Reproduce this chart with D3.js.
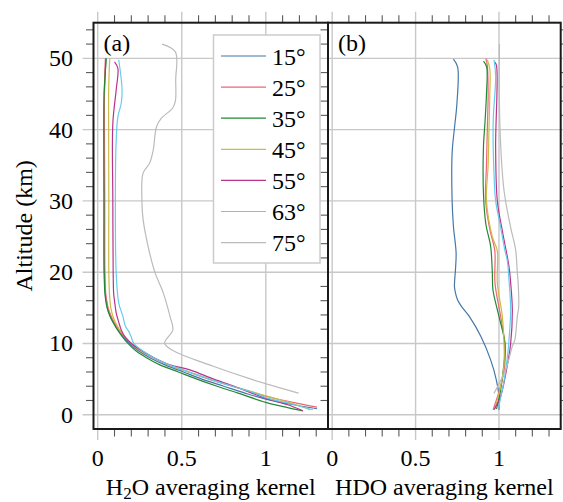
<!DOCTYPE html>
<html>
<head>
<meta charset="utf-8">
<script src="https://cdn.jsdelivr.net/npm/d3@7"></script>
<style>
  html, body { margin: 0; padding: 0; background: #fff; }
  svg { display: block; font-family: "Liberation Serif", "Times New Roman", serif; }
</style>
</head>
<body>
<svg id="chart" width="563" height="502"></svg>
<script>
// Latitude bands shown in the legend
const latitudes = ["15°", "25°", "35°", "45°", "55°", "63°", "75°"];
const colors = ["#4477AA", "#EE6677", "#228833", "#CCBB44", "#BB3388", "#66CCEE", "#BBBBBB"];

// Axis ticks
const xMajorTicks = [0, 0.5, 1];
const xTickLabels = ["0", "0.5", "1"];
const yMajorTicks = [0, 10, 20, 30, 40, 50];

// H2O averaging kernel diagonal, [altitude km, kernel value]
const h2o15 = [[50,0.05],[48,0.045],[45,0.04],[40,0.04],[30,0.04],[20,0.04],[17,0.045],[16,0.05],[15,0.058],[14,0.072],[13,0.092],[12,0.118],[11,0.15],[10,0.19],[9,0.24],[8,0.31],[7,0.40],[6,0.51],[5,0.62],[4,0.75],[3,0.88],[2.2,1.0],[1.3,1.19],[0.84,1.305]];
const h2o25 = [[50,0.046],[48,0.042],[45,0.04],[40,0.04],[30,0.042],[20,0.043],[17,0.048],[16,0.054],[15,0.062],[14,0.077],[13,0.097],[12,0.124],[11,0.157],[10,0.2],[9,0.255],[8,0.33],[7,0.42],[6,0.54],[5,0.66],[4,0.8],[3,0.94],[2.6,1.0],[1.6,1.19],[1.08,1.305]];
const h2o35 = [[50,0.05],[48,0.045],[45,0.038],[40,0.036],[30,0.037],[20,0.038],[17,0.043],[16,0.048],[15,0.056],[14,0.07],[13,0.09],[12,0.115],[11,0.145],[10,0.18],[9,0.225],[8,0.29],[7,0.37],[6,0.48],[5,0.59],[4,0.71],[3,0.84],[1.73,1.0],[1.0,1.13],[0.55,1.22]];
const h2o45 = [[50,0.072],[48,0.068],[45,0.065],[40,0.065],[30,0.066],[20,0.066],[17,0.07],[16,0.073],[15,0.078],[14,0.088],[13,0.104],[12,0.128],[11,0.16],[10,0.2],[9,0.255],[8,0.33],[7,0.42],[6,0.54],[5,0.67],[4,0.81],[3,0.95],[2.66,1.0],[1.5,1.17],[0.67,1.265]];
const h2o55 = [[49.5,0.1],[48.6,0.12],[45.6,0.11],[40.9,0.09],[30,0.09],[20,0.092],[17,0.095],[16,0.1],[14.3,0.11],[13,0.125],[11.9,0.14],[11,0.16],[10,0.2],[9,0.26],[8,0.335],[7,0.43],[6.3,0.548],[5,0.69],[4,0.81],[3,0.92],[2.3,1.0],[1.4,1.13],[0.56,1.22]];
const h2o63 = [[49.8,0.125],[45.6,0.145],[43.7,0.14],[41.8,0.12],[38.5,0.11],[30,0.105],[19.9,0.11],[15.7,0.125],[13.8,0.15],[12.4,0.165],[11.7,0.185],[11,0.198],[10,0.215],[9,0.265],[8,0.335],[7,0.425],[6,0.545],[5,0.665],[4,0.8],[3,0.94],[2.4,1.0],[1.4,1.17],[0.7,1.28]];
const h2o75 = [[52,0.383],[50.9,0.462],[47,0.464],[44,0.462],[43,0.445],[41.6,0.379],[40.4,0.35],[37.1,0.33],[35.3,0.309],[33.9,0.27],[30,0.263],[27.4,0.27],[23.6,0.30],[20,0.34],[17.1,0.39],[13.8,0.43],[11.9,0.447],[10.05,0.398],[9.0,0.448],[6.8,0.687],[4.9,0.926],[3.04,1.195]];

// HDO averaging kernel diagonal, [altitude km, kernel value]
const hdo15 = [[49.9,0.727],[48.8,0.752],[43.7,0.748],[40.2,0.733],[36.7,0.719],[30.1,0.719],[26.4,0.727],[22.7,0.743],[20.3,0.739],[18,0.733],[17.1,0.739],[16.1,0.752],[15.2,0.775],[13.8,0.822],[11,0.891],[7.7,0.95],[4.9,0.984],[2.57,1.0],[0.7,1.0]];
const hdo25 = [[50,0.921],[49,0.93],[45,0.935],[40,0.93],[35,0.925],[30,0.92],[26,0.945],[23,0.975],[18.5,0.976],[13.8,1.01],[10,1.035],[7,1.035],[4,1.01],[0.7,0.965]];
const hdo35 = [[49.6,0.907],[48.8,0.926],[45,0.925],[41,0.916],[37.6,0.907],[31,0.907],[26.8,0.921],[23.6,0.95],[20,0.96],[17.5,0.964],[13.8,1.0],[10,1.036],[7.2,1.03],[3.5,1.01],[0.8,0.985]];
const hdo45 = [[49.8,0.93],[48.5,0.945],[45,0.945],[40,0.94],[35,0.935],[30,0.925],[25,0.96],[23,0.99],[18.5,0.99],[13.8,1.02],[10,1.03],[7,1.03],[4,1.01],[0.8,0.975]];
const hdo55 = [[49.5,0.974],[49,0.985],[37.6,0.98],[30,0.99],[25.8,1.02],[20.8,1.06],[18.5,1.07],[14.7,1.08],[10,1.07],[6.3,1.045],[2.6,1.01],[0.7,0.97]];
const hdo63 = [[49.8,0.97],[47.6,0.98],[41,0.965],[33.9,0.97],[30,0.98],[26.3,1.01],[23.1,1.035],[21.6,1.05],[18.9,1.06],[14.7,1.07],[10.5,1.06],[9.1,1.055],[5.4,1.035],[1.2,1.0],[0.9,0.998]];
const hdo75 = [[52,1.003],[41,1.005],[31.5,1.03],[26.3,1.07],[23.1,1.1],[19.9,1.11],[18.5,1.115],[15,1.118],[13.8,1.11],[10.5,1.095],[9.6,1.08],[6.3,1.04],[3.0,0.97]];

const panels = [
  { tag: "(a)", title: ["H", "2", "O averaging kernel"], series: [h2o15, h2o25, h2o35, h2o45, h2o55, h2o63, h2o75], x0: 93.5, x1: 328 },
  { tag: "(b)", title: ["HDO averaging kernel"], series: [hdo15, hdo25, hdo35, hdo45, hdo55, hdo63, hdo75], x0: 328, x1: 560.7 }
];

const svg = d3.select("#chart");
const plotTop = 22.7, plotBottom = 429;
const y = d3.scaleLinear().domain([-2, 55]).range([plotBottom, plotTop]);
const gridColor = "#c8c8c8";
const minorColor = "#5a5a5a";
const minorY = d3.range(2, 55, 2).filter(v => v % 10 !== 0);
const minorX = d3.range(1, 14).map(i => i / 10).filter(v => Math.abs(v - 0.5) > 1e-9 && Math.abs(v - 1) > 1e-9);

panels.forEach((p, pi) => {
  const x = d3.scaleLinear().domain([-0.025, 1.37]).range([p.x0, p.x1]);
  const g = svg.append("g");

  // grid lines, extended past the frame as major ticks
  g.selectAll(".vg").data(xMajorTicks).join("line")
    .attr("x1", d => x(d)).attr("x2", d => x(d))
    .attr("y1", plotTop - 11).attr("y2", plotBottom + 11)
    .attr("stroke", gridColor).attr("stroke-width", 1.4);
  g.selectAll(".hg").data(yMajorTicks).join("line")
    .attr("x1", pi === 0 ? p.x0 - 11 : p.x0).attr("x2", pi === 1 ? p.x1 + 11 : p.x1)
    .attr("y1", d => y(d)).attr("y2", d => y(d))
    .attr("stroke", gridColor).attr("stroke-width", 1.4);

  // minor ticks, pointing outward
  g.selectAll(".mt").data(minorX).join("line")
    .attr("x1", d => x(d)).attr("x2", d => x(d))
    .attr("y1", plotTop - 7.5).attr("y2", plotTop)
    .attr("stroke", minorColor).attr("stroke-width", 1.1);
  g.selectAll(".mb").data(minorX).join("line")
    .attr("x1", d => x(d)).attr("x2", d => x(d))
    .attr("y1", plotBottom).attr("y2", plotBottom + 7.5)
    .attr("stroke", minorColor).attr("stroke-width", 1.1);
  g.selectAll(".ml").data(minorY).join("line")
    .attr("x1", p.x0 - 7.5).attr("x2", p.x0)
    .attr("y1", d => y(d)).attr("y2", d => y(d))
    .attr("stroke", minorColor).attr("stroke-width", 1.1);
  if (pi === 1) {
    g.selectAll(".mr").data(minorY).join("line")
      .attr("x1", p.x1).attr("x2", p.x1 + 7.5)
      .attr("y1", d => y(d)).attr("y2", d => y(d))
      .attr("stroke", minorColor).attr("stroke-width", 1.1);
  }

  // kernel profiles
  const line = d3.line()
    .x(d => x(d[1])).y(d => y(d[0]))
    .curve(d3.curveCatmullRom.alpha(0.5));
  g.selectAll(".profile").data(p.series).join("path")
    .attr("d", line)
    .attr("fill", "none")
    .attr("stroke", (d, i) => colors[i])
    .attr("stroke-width", 1.2);

  // frame
  g.append("rect")
    .attr("x", p.x0).attr("y", plotTop)
    .attr("width", p.x1 - p.x0).attr("height", plotBottom - plotTop)
    .attr("fill", "none").attr("stroke", "#1a1a1a").attr("stroke-width", 2);

  // x tick labels
  g.selectAll(".xl").data(xMajorTicks).join("text")
    .attr("x", d => x(d)).attr("y", 466)
    .attr("text-anchor", "middle").attr("font-size", 24)
    .text((d, i) => xTickLabels[i]);

  // panel tag
  g.append("text").attr("x", p.x0 + 10).attr("y", 51)
    .attr("font-size", 24).text(p.tag);

  // x axis title
  const t = g.append("text")
    .attr("x", (p.x0 + p.x1) / 2).attr("y", 495)
    .attr("text-anchor", "middle").attr("font-size", 24);
  if (p.title.length === 3) {
    t.append("tspan").text(p.title[0]);
    t.append("tspan").attr("dy", 4).attr("font-size", 17).text(p.title[1]);
    t.append("tspan").attr("dy", -4).text(p.title[2]);
  } else {
    t.text(p.title[0]);
  }
});

// y tick labels and axis title
svg.selectAll(".yl").data(yMajorTicks).join("text")
  .attr("x", 73).attr("y", d => y(d) + 8)
  .attr("text-anchor", "end").attr("font-size", 24)
  .text(d => d);
svg.append("text")
  .attr("transform", `translate(32,${(plotTop + plotBottom) / 2}) rotate(-90)`)
  .attr("text-anchor", "middle").attr("font-size", 24)
  .text("Altitude (km)");

// legend
const lg = svg.append("g");
lg.append("rect").attr("x", 213.5).attr("y", 35).attr("width", 106.5).attr("height", 228)
  .attr("fill", "#fff").attr("stroke", "#cccccc").attr("stroke-width", 1.5);
const rows = lg.selectAll(".row").data(latitudes).join("g")
  .attr("transform", (d, i) => `translate(0,${56 + i * 31.1})`);
rows.append("line").attr("x1", 221).attr("x2", 266)
  .attr("stroke", (d, i) => colors[i]).attr("stroke-width", 1.2);
rows.append("text").attr("x", 272).attr("y", 8.5)
  .attr("font-size", 24).text(d => d);
</script>
</body>
</html>
